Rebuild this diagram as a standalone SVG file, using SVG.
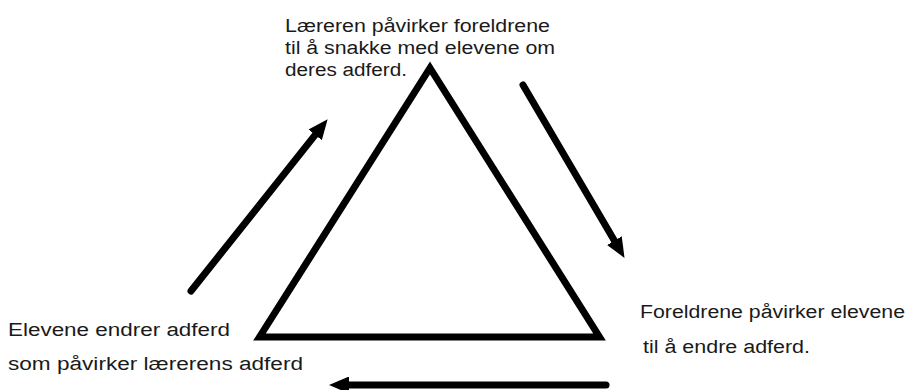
<svg xmlns="http://www.w3.org/2000/svg" width="909" height="390" viewBox="0 0 909 390">
  <style>
    .lbl { font-family: "Liberation Sans", Arial, sans-serif; font-size: 18px; fill: #1a1a1a; }
    .tri { fill: #ffffff; stroke: #000000; stroke-width: 7; stroke-linejoin: miter; }
    .arr { fill: none; stroke: #000000; stroke-width: 7; stroke-linecap: round; marker-end: url(#head); }
  </style>
  <defs>
    <marker id="head" markerUnits="userSpaceOnUse" markerWidth="20" markerHeight="17" viewBox="0 0 20 17" refX="1" refY="8.5" orient="auto">
      <path d="M0,0 L20,8.5 L0,17 Z" fill="#000000"/>
    </marker>
  </defs>
  <rect width="909" height="390" fill="#ffffff"/>
  <g id="triangle">
    <polygon class="tri" points="430,68 599.5,337 259.5,337"/>
  </g>
  <g id="node-top">
    <text class="lbl" x="285" y="32" textLength="265" lengthAdjust="spacingAndGlyphs">Læreren påvirker foreldrene</text>
    <text class="lbl" x="285" y="54" textLength="270" lengthAdjust="spacingAndGlyphs">til å snakke med elevene om</text>
    <text class="lbl" x="285" y="76" textLength="122" lengthAdjust="spacingAndGlyphs">deres adferd.</text>
  </g>
  <g id="node-right">
    <text class="lbl" x="640" y="318" textLength="265" lengthAdjust="spacingAndGlyphs">Foreldrene påvirker elevene</text>
    <text class="lbl" x="643" y="353" textLength="167" lengthAdjust="spacingAndGlyphs">til å endre adferd.</text>
  </g>
  <g id="node-left">
    <text class="lbl" x="8" y="336" textLength="222" lengthAdjust="spacingAndGlyphs">Elevene endrer adferd</text>
    <text class="lbl" x="8" y="370" textLength="295" lengthAdjust="spacingAndGlyphs">som påvirker lærerens adferd</text>
  </g>
  <g id="connectors">
    <line class="arr" x1="191" y1="291" x2="315.8" y2="134.1"/>
    <line class="arr" x1="523" y1="85" x2="614.9" y2="241.5"/>
    <line class="arr" x1="606" y1="385" x2="348" y2="385"/>
  </g>
</svg>
